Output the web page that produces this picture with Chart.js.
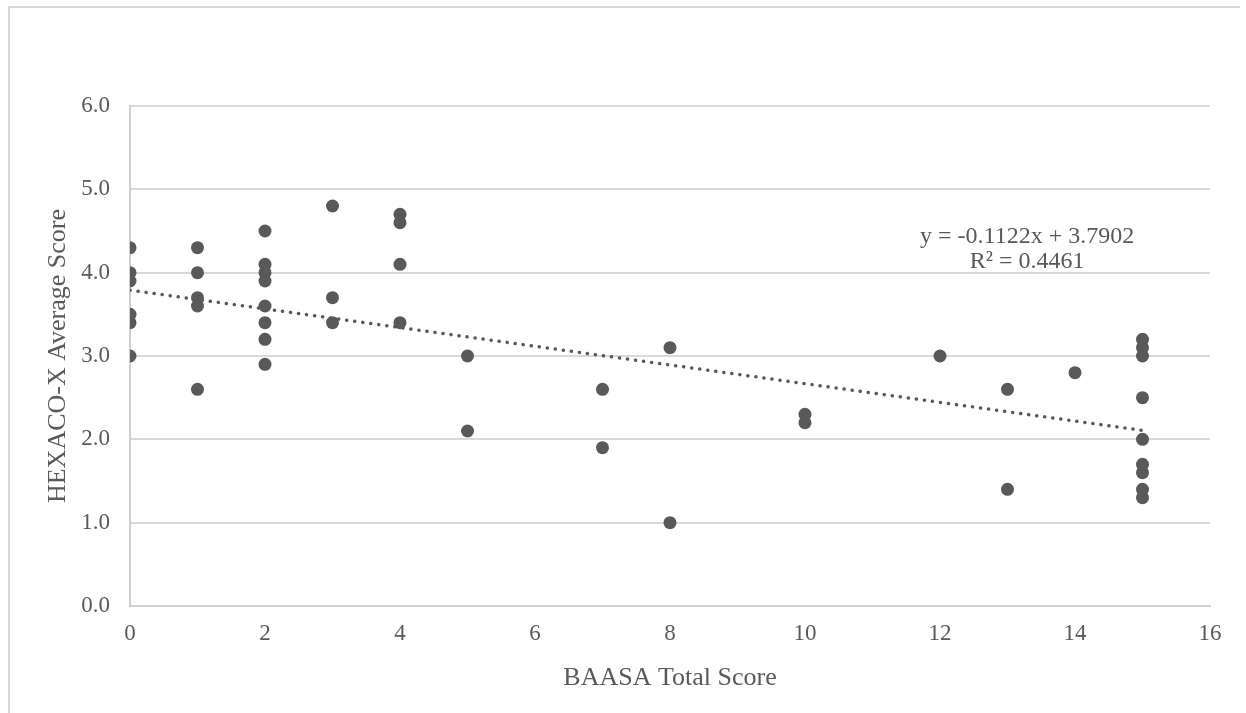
<!DOCTYPE html>
<html>
<head>
<meta charset="utf-8">
<script src="https://cdn.jsdelivr.net/npm/chart.js@4/dist/chart.umd.min.js"></script>
<style>
  html, body { margin: 0; padding: 0; background: #fff; }
  #wrap { position: relative; width: 1246px; height: 713px; overflow: hidden; }
  #frame { position: absolute; left: 8px; top: 6px; width: 1230px; height: 760px;
           border-left: 2px solid #d9d9d9; border-top: 2px solid #d9d9d9; }
  canvas { position: absolute; left: 0; top: 0; }
</style>
</head>
<body>
<div id="wrap">
  <div id="frame"></div>
  <canvas id="scatterChart" width="1246" height="713"></canvas>
</div>
<script>
// BAASA total score for each respondent
const baasaScores = [
    0, 0, 0, 0, 0, 0,
    1, 1, 1, 1, 1,
    2, 2, 2, 2, 2, 2, 2, 2,
    3, 3, 3,
    4, 4, 4, 4,
    5, 5,
    7, 7,
    8, 8,
    10, 10,
    12,
    13, 13,
    14,
    15, 15, 15, 15, 15, 15, 15, 15, 15
];
// HEXACO-X average score for the same respondents
const hexacoScores = [
    4.3, 4.0, 3.9, 3.5, 3.4, 3.0,
    4.3, 4.0, 3.7, 3.6, 2.6,
    4.5, 4.1, 4.0, 3.9, 3.6, 3.4, 3.2, 2.9,
    4.8, 3.7, 3.4,
    4.7, 4.6, 4.1, 3.4,
    3.0, 2.1,
    2.6, 1.9,
    3.1, 1.0,
    2.3, 2.2,
    3.0,
    2.6, 1.4,
    2.8,
    3.2, 3.1, 3.0, 2.5, 2.0, 1.7, 1.6, 1.4, 1.3
];
// linear trendline y = slope * x + intercept
const trendSlope = -0.1122;
const trendIntercept = 3.7902;
const trendRange = [0, 15];
const trendLabels = ['y = -0.1122x + 3.7902', 'R\u00b2 = 0.4461'];

const xTicks = [0, 2, 4, 6, 8, 10, 12, 14, 16];
const yTicks = [0, 1, 2, 3, 4, 5, 6];

const grey = '#595959';
const serif = "'Liberation Serif', 'Times New Roman', serif";

const points = baasaScores.map((x, i) => ({ x: x, y: hexacoScores[i] }));
const trendPoints = trendRange.map(x => ({ x: x, y: trendSlope * x + trendIntercept }));

// trendline equation box, placed in data units
const equationLabel = {
    id: 'equationLabel',
    afterDatasetsDraw(chart) {
        const ctx = chart.ctx;
        const cx = chart.scales.x.getPixelForValue(13.29);
        const top = chart.scales.y.getPixelForValue(4.43);
        ctx.save();
        ctx.fillStyle = grey;
        ctx.font = '24px ' + serif;
        ctx.textAlign = 'center';
        ctx.textBaseline = 'middle';
        trendLabels.forEach((t, i) => ctx.fillText(t, cx, top + i * 25));
        ctx.restore();
    }
};

new Chart(document.getElementById('scatterChart'), {
    type: 'scatter',
    data: {
        datasets: [
            {
                label: 'HEXACO-X',
                data: points,
                backgroundColor: grey,
                borderColor: grey,
                pointRadius: 6.5,
                pointHoverRadius: 6.5,
                borderWidth: 0
            },
            {
                label: 'Linear',
                type: 'line',
                data: trendPoints,
                borderColor: grey,
                borderWidth: 3.5,
                borderDash: [0.1, 8],
                borderCapStyle: 'round',
                pointRadius: 0,
                fill: false
            }
        ]
    },
    options: {
        responsive: false,
        animation: false,
        layout: { padding: { top: 106, right: 36, left: 43, bottom: 0 } },
        plugins: {
            legend: { display: false },
            tooltip: { enabled: false }
        },
        scales: {
            x: {
                type: 'linear',
                min: 0,
                max: 16,
                afterBuildTicks: axis => { axis.ticks = xTicks.map(v => ({ value: v })); },
                afterFit: axis => { axis.height = 107; },
                grid: { display: false, drawTicks: false },
                border: { color: '#d0d0d0', width: 2 },
                ticks: {
                    color: grey,
                    font: { family: serif, size: 23 },
                    padding: 14,
                    maxRotation: 0
                },
                title: {
                    display: true,
                    text: 'BAASA Total Score',
                    color: grey,
                    font: { family: serif, size: 26 },
                    padding: { top: 8, bottom: 19 }
                }
            },
            y: {
                min: 0,
                max: 6,
                afterBuildTicks: axis => { axis.ticks = yTicks.map(v => ({ value: v })); },
                afterFit: axis => { axis.width = 87; },
                grid: { color: '#d9d9d9', lineWidth: 2, drawTicks: false },
                border: { color: '#d0d0d0', width: 2 },
                ticks: {
                    color: grey,
                    font: { family: serif, size: 23 },
                    padding: 20,
                    callback: v => v.toFixed(1)
                },
                title: {
                    display: true,
                    text: 'HEXACO-X Average Score',
                    color: grey,
                    font: { family: serif, size: 26 },
                    padding: { top: 0, bottom: 4 }
                }
            }
        }
    },
    plugins: [equationLabel]
});
</script>
</body>
</html>
